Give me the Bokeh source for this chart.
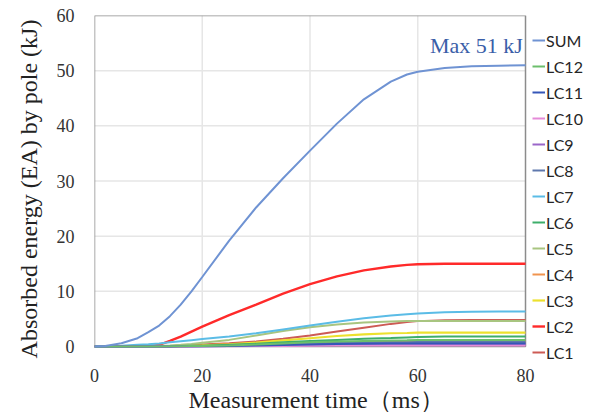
from bokeh.plotting import figure
from bokeh.models import Range1d, Legend, LegendItem, Label, Title
from bokeh.embed import file_html
from bokeh.resources import INLINE

# time axis (ms)
t = [0, 2, 5, 8, 10, 12, 14, 16, 18, 20, 25, 30, 35, 40, 45, 50, 55, 58, 60, 65, 70, 75, 80]

SUM  = [0, 0.1, 0.6, 1.5, 2.6, 3.8, 5.5, 7.6, 10.0, 12.6, 19.2, 25.2, 30.5, 35.5, 40.4, 44.8, 48.0, 49.3, 49.8, 50.5, 50.8, 50.9, 51.0]
LC12 = [0, 0, 0, 0, 0.01, 0.02, 0.04, 0.06, 0.08, 0.1, 0.2, 0.35, 0.55, 0.75, 0.9, 1.0, 1.1, 1.15, 1.2, 1.2, 1.2, 1.2, 1.2]
LC11 = [0, 0, 0, 0, 0.01, 0.01, 0.02, 0.03, 0.04, 0.05, 0.1, 0.18, 0.27, 0.36, 0.44, 0.5, 0.53, 0.55, 0.55, 0.55, 0.55, 0.55, 0.55]
LC10 = [0, 0, 0, 0, 0, 0.01, 0.01, 0.02, 0.02, 0.03, 0.05, 0.08, 0.11, 0.14, 0.17, 0.19, 0.2, 0.2, 0.2, 0.2, 0.2, 0.2, 0.2]
LC9  = [0, 0, 0, 0, 0, 0.01, 0.01, 0.02, 0.03, 0.04, 0.07, 0.12, 0.18, 0.23, 0.28, 0.32, 0.34, 0.35, 0.35, 0.35, 0.35, 0.35, 0.35]
LC8  = [0, 0, 0, 0, 0.01, 0.02, 0.03, 0.04, 0.06, 0.08, 0.15, 0.26, 0.4, 0.52, 0.63, 0.71, 0.76, 0.78, 0.8, 0.8, 0.8, 0.8, 0.8]
LC7  = [0, 0.05, 0.15, 0.3, 0.4, 0.55, 0.75, 0.95, 1.15, 1.35, 1.8, 2.4, 3.1, 3.8, 4.5, 5.1, 5.6, 5.85, 6.0, 6.2, 6.3, 6.35, 6.35]
LC6  = [0, 0, 0, 0, 0.02, 0.04, 0.06, 0.09, 0.12, 0.15, 0.3, 0.5, 0.75, 1.0, 1.2, 1.4, 1.55, 1.65, 1.7, 1.8, 1.8, 1.8, 1.8]
LC5  = [0, 0, 0.02, 0.05, 0.1, 0.15, 0.2, 0.3, 0.45, 0.7, 1.2, 2.0, 2.8, 3.5, 4.0, 4.35, 4.55, 4.6, 4.6, 4.6, 4.6, 4.6, 4.6]
LC4  = [0, 0, 0, 0, 0.01, 0.02, 0.03, 0.05, 0.07, 0.09, 0.18, 0.3, 0.45, 0.6, 0.72, 0.8, 0.85, 0.88, 0.9, 0.9, 0.9, 0.9, 0.9]
LC3  = [0, 0, 0, 0, 0.02, 0.05, 0.08, 0.12, 0.16, 0.2, 0.4, 0.7, 1.1, 1.5, 1.9, 2.2, 2.4, 2.45, 2.5, 2.5, 2.5, 2.5, 2.5]
LC2  = [0, 0, 0, 0, 0.05, 0.3, 1.0, 1.8, 2.7, 3.6, 5.7, 7.6, 9.6, 11.3, 12.7, 13.8, 14.5, 14.8, 14.9, 15.0, 15.0, 15.0, 15.0]
LC1  = [0, 0, 0, 0, 0.02, 0.05, 0.1, 0.15, 0.25, 0.35, 0.6, 0.9, 1.4, 2.0, 2.7, 3.4, 4.1, 4.45, 4.6, 4.75, 4.8, 4.8, 4.8]

names = ["SUM", "LC12", "LC11", "LC10", "LC9", "LC8", "LC7", "LC6", "LC5", "LC4", "LC3", "LC2", "LC1"]
series = [SUM, LC12, LC11, LC10, LC9, LC8, LC7, LC6, LC5, LC4, LC3, LC2, LC1]
colors = ["#6f93d3", "#6cbf6c", "#3556b8", "#e58ad8", "#9b66c9", "#5f78ad",
          "#5bbce6", "#3dae6a", "#a8c580", "#f0944f", "#ece12e", "#ff2a2a", "#cd5b55"]
widths = [2, 2, 2, 2, 2, 2, 2, 2, 2, 2, 2.2, 2.4, 2]

y_ticks = [0, 10, 20, 30, 40, 50, 60]
x_ticks = [0, 20, 40, 60, 80]

# frame extends to the right (room for the legend) and slightly below zero
p = figure(width=609, height=416, output_backend="svg", toolbar_location=None,
           x_range=Range1d(0, 95.59), y_range=Range1d(-2.9, 60),
           min_border_left=94, min_border_right=0, min_border_top=15, min_border_bottom=54)
p.background_fill_color = "white"
p.border_fill_color = "white"
p.outline_line_color = None
p.xgrid.grid_line_color = None
p.ygrid.grid_line_color = None

x0, x1 = x_ticks[0], x_ticks[-1]
y0, y1 = y_ticks[0], y_ticks[-1]
inner_x = x_ticks[1:-1]
inner_y = y_ticks[1:-1]
# gridlines within the plot box
p.segment(x0=inner_x, y0=[y0] * len(inner_x), x1=inner_x, y1=[y1] * len(inner_x),
          line_color="#e6e6e6", line_width=1.5)
p.segment(x0=[x0] * len(inner_y), y0=inner_y, x1=[x1] * len(inner_y), y1=inner_y,
          line_color="#e6e6e6", line_width=1.5)
# plot box
p.quad(left=[x0], right=[x1], bottom=[y0], top=[y1], fill_color=None,
       line_color="#8c8c8c", line_width=1.5)

renderers = {}
order = ["LC1", "LC2", "LC3", "LC4", "LC5", "LC6", "LC7", "LC8", "LC9", "LC10", "LC11", "LC12", "SUM"]
for nm in order:
    i = names.index(nm)
    renderers[nm] = p.line(t, series[i], line_color=colors[i], line_width=widths[i])

items = [LegendItem(label=nm, renderers=[renderers[nm]]) for nm in names]
legend = Legend(items=items, location=(438, 0), orientation="vertical")
legend.label_text_font = "Lato"
legend.label_text_font_size = "16px"
legend.label_text_color = "#262626"
legend.glyph_width = 13
legend.glyph_height = 20
legend.label_height = 20
legend.label_standoff = 1
legend.spacing = 6
legend.padding = 0
legend.margin = 0
legend.border_line_color = None
legend.background_fill_alpha = 0
p.add_layout(legend, "center")

p.xaxis.ticker = x_ticks
p.yaxis.ticker = y_ticks
for ax in (p.xaxis, p.yaxis):
    ax.major_label_text_font = "Liberation Serif"
    ax.major_label_text_font_size = "18px"
    ax.major_label_text_color = "#333333"
    ax.axis_label_text_font = "Liberation Serif"
    ax.axis_label_text_font_size = "24px"
    ax.axis_label_text_font_style = "normal"
    ax.axis_label_text_color = "#222222"
    ax.axis_line_color = None
    ax.major_tick_line_color = None
    ax.minor_tick_line_color = None
p.xaxis.major_label_standoff = 0
p.yaxis.major_label_standoff = 14
p.yaxis.axis_label = "Absorbed energy (EA) by pole (kJ)"
p.yaxis.axis_label_standoff = 12

xtitle = Title(text="Measurement time（ms）", align="left", offset=94, vertical_align="top",
               text_font="Liberation Serif", text_font_size="24px", text_font_style="normal",
               text_color="#222222", standoff=4)
p.add_layout(xtitle, "below")

p.add_layout(Label(x=79.5, y=54.5, text="Max 51 kJ", text_align="right", text_baseline="middle",
                   text_font="Liberation Serif", text_font_size="22px", text_color="#3a5ea8"))

open("out.html", "w").write(file_html(p, INLINE))
